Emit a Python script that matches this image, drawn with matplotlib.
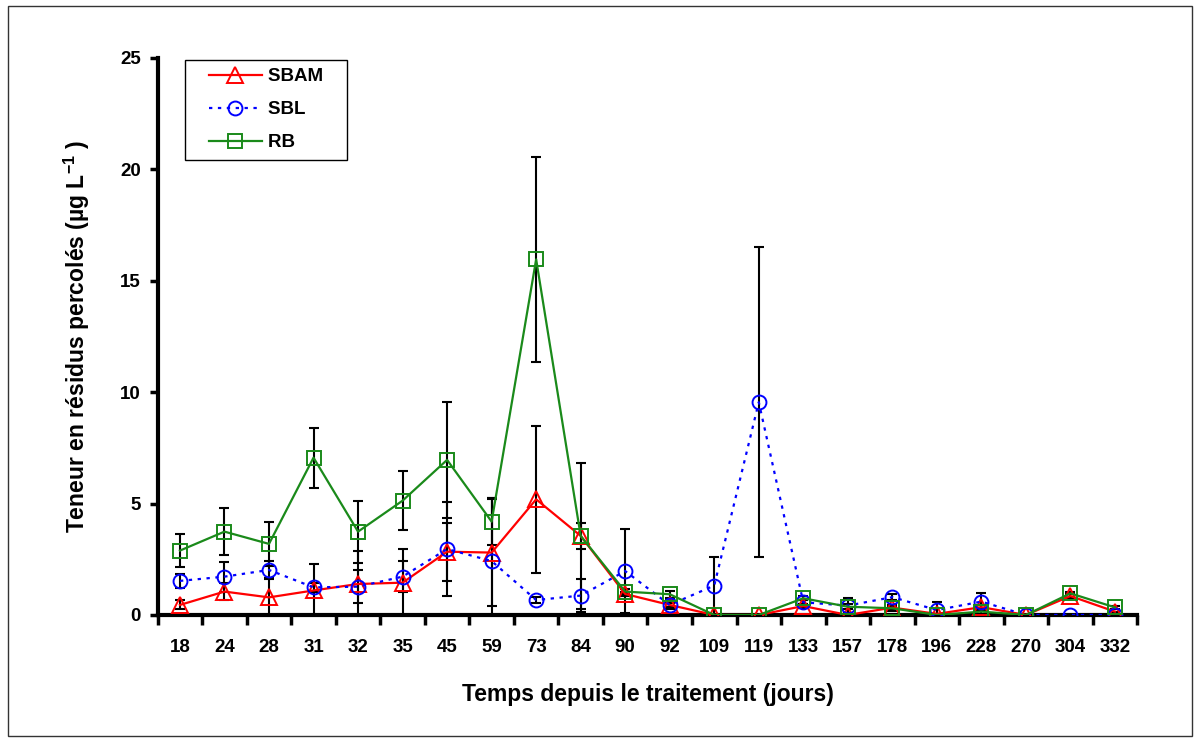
import matplotlib
matplotlib.use("Agg")
import matplotlib.pyplot as plt
import numpy as np
from matplotlib.patches import Rectangle
from matplotlib.lines import Line2D
from matplotlib.legend_handler import HandlerLine2D

plt.rcParams['font.family'] = ['Liberation Sans', 'DejaVu Sans']
plt.rcParams['font.weight'] = 'bold'
plt.rcParams['mathtext.fontset'] = 'custom'
plt.rcParams['mathtext.rm'] = 'Liberation Sans:bold'
plt.rcParams['mathtext.bf'] = 'Liberation Sans:bold'
plt.rcParams['mathtext.default'] = 'rm'

days = ['18', '24', '28', '31', '32', '35', '45', '59', '73', '84', '90', '92',
        '109', '119', '133', '157', '178', '196', '228', '270', '304', '332']

sbam = [0.45, 1.05, 0.79, 1.10, 1.39, 1.45, 2.84, 2.80, 5.19, 3.55, 0.94, 0.45,
        0.0, 0.0, 0.40, 0.0, 0.33, 0.05, 0.35, 0.0, 0.85, 0.15]
sbam_err = [0.2, 0.38, 0.85, 1.2, 1.5, 1.5, 1.3, 2.4, 3.3, 3.29, 0.1, 0.1,
            0.0, 0.0, 0.1, 0.0, 0.1, 0.0, 0.1, 0.0, 0.1, 0.0]

sbl = [1.53, 1.72, 2.02, 1.24, 1.27, 1.72, 2.96, 2.42, 0.67, 0.87, 1.97, 0.45,
       1.32, 9.55, 0.57, 0.42, 0.80, 0.22, 0.60, 0.0, 0.0, 0.0]
sbl_err = [0.3, 0.67, 0.4, 0.2, 0.75, 0.7, 2.1, 2.85, 0.15, 0.74, 1.88, 0.2,
           1.3, 6.95, 0.1, 0.35, 0.15, 0.35, 0.37, 0.0, 0.0, 0.0]

rb = [2.89, 3.74, 3.19, 7.06, 3.74, 5.13, 6.96, 4.19, 15.96, 3.55, 1.05, 0.93,
      0.0, 0.0, 0.75, 0.37, 0.30, 0.0, 0.15, 0.0, 0.97, 0.34]
rb_err = [0.75, 1.06, 0.97, 1.35, 1.39, 1.33, 2.59, 1.05, 4.6, 0.6, 0.1, 0.15,
          0.0, 0.0, 0.1, 0.1, 0.1, 0.0, 0.1, 0.0, 0.05, 0.05]


class PadHandler(HandlerLine2D):
    """Legend line handler leaving some empty room on the left of the handle."""
    def get_xdata(self, legend, xdescent, ydescent, width, height, fontsize):
        off = 0.8 * fontsize
        xdata = [-xdescent + off, -xdescent + width]
        xdata_marker = [-xdescent + off + 0.5 * (width - off)]
        return xdata, xdata_marker


fig = plt.figure(figsize=(12, 7.42), dpi=100)
ax = fig.add_axes([0.1314, 0.1712, 0.8163, 0.7507])

x = np.arange(len(days))

series = [
    ('SBAM', sbam, sbam_err, '#FF0000', '-', '^', 11),
    ('SBL', sbl, sbl_err, '#0000FF', (0, (1.5, 2.5)), 'o', 10),
    ('RB', rb, rb_err, '#1A8A1A', '-', 's', 10),
]

for name, vals, err, col, ls, mk, ms in series:
    ax.errorbar(x, vals, yerr=err, fmt='none', ecolor='black', elinewidth=1.5,
                capsize=3.5, capthick=1.5, zorder=2)

for name, vals, err, col, ls, mk, ms in series:
    ax.plot(x, vals, color=col, linestyle=ls, linewidth=1.6, marker=mk,
            markersize=ms, markerfacecolor='none', markeredgecolor=col,
            markeredgewidth=1.4, label=name, zorder=3)

ax.set_xlim(-0.5, len(days) - 0.5)
ax.set_ylim(0, 25)
ax.set_yticks([0, 5, 10, 15, 20, 25])
ax.set_xticks(np.arange(-0.5, len(days), 1.0))
ax.set_xticklabels([])
ax.set_xticks(x, minor=True)
ax.set_xticklabels(days, minor=True)
ax.tick_params(axis='x', which='major', direction='out', length=7, width=2.5)
ax.tick_params(axis='x', which='minor', length=0, pad=17, labelsize=13.5)
ax.tick_params(axis='y', direction='out', length=6, width=2.5, labelsize=13.5, pad=6)

for lab in ax.get_xticklabels(minor=True) + ax.get_yticklabels():
    lab.set_fontweight('bold')

for s in ['top', 'right']:
    ax.spines[s].set_visible(False)
for s in ['left', 'bottom']:
    ax.spines[s].set_linewidth(3)

ax.set_xlabel('Temps depuis le traitement (jours)', fontsize=16.5, fontweight='bold', labelpad=20)
ax.set_ylabel('Teneur en résidus percolés (µg L$^{\\mathrm{-1}}$ )', fontsize=16.5,
              fontweight='bold', labelpad=20)

handles, labels = ax.get_legend_handles_labels()
labels = [lab + '   ' for lab in labels]
leg = ax.legend(handles, labels, loc='upper left', bbox_to_anchor=(0.028, 0.997),
                borderaxespad=0, fancybox=False, edgecolor='black', framealpha=1,
                prop={'weight': 'bold', 'size': 13.5}, handlelength=3.63,
                labelspacing=0.85, borderpad=0.45, handletextpad=0.32,
                handler_map={Line2D: PadHandler()})
leg.get_frame().set_linewidth(1.0)

fig.patches.append(Rectangle((8 / 1200, 6 / 742), 1184 / 1200, 730 / 742,
                             transform=fig.transFigure, fill=False,
                             edgecolor='#333333', linewidth=1.0))

fig.savefig('out.png', dpi=100)
